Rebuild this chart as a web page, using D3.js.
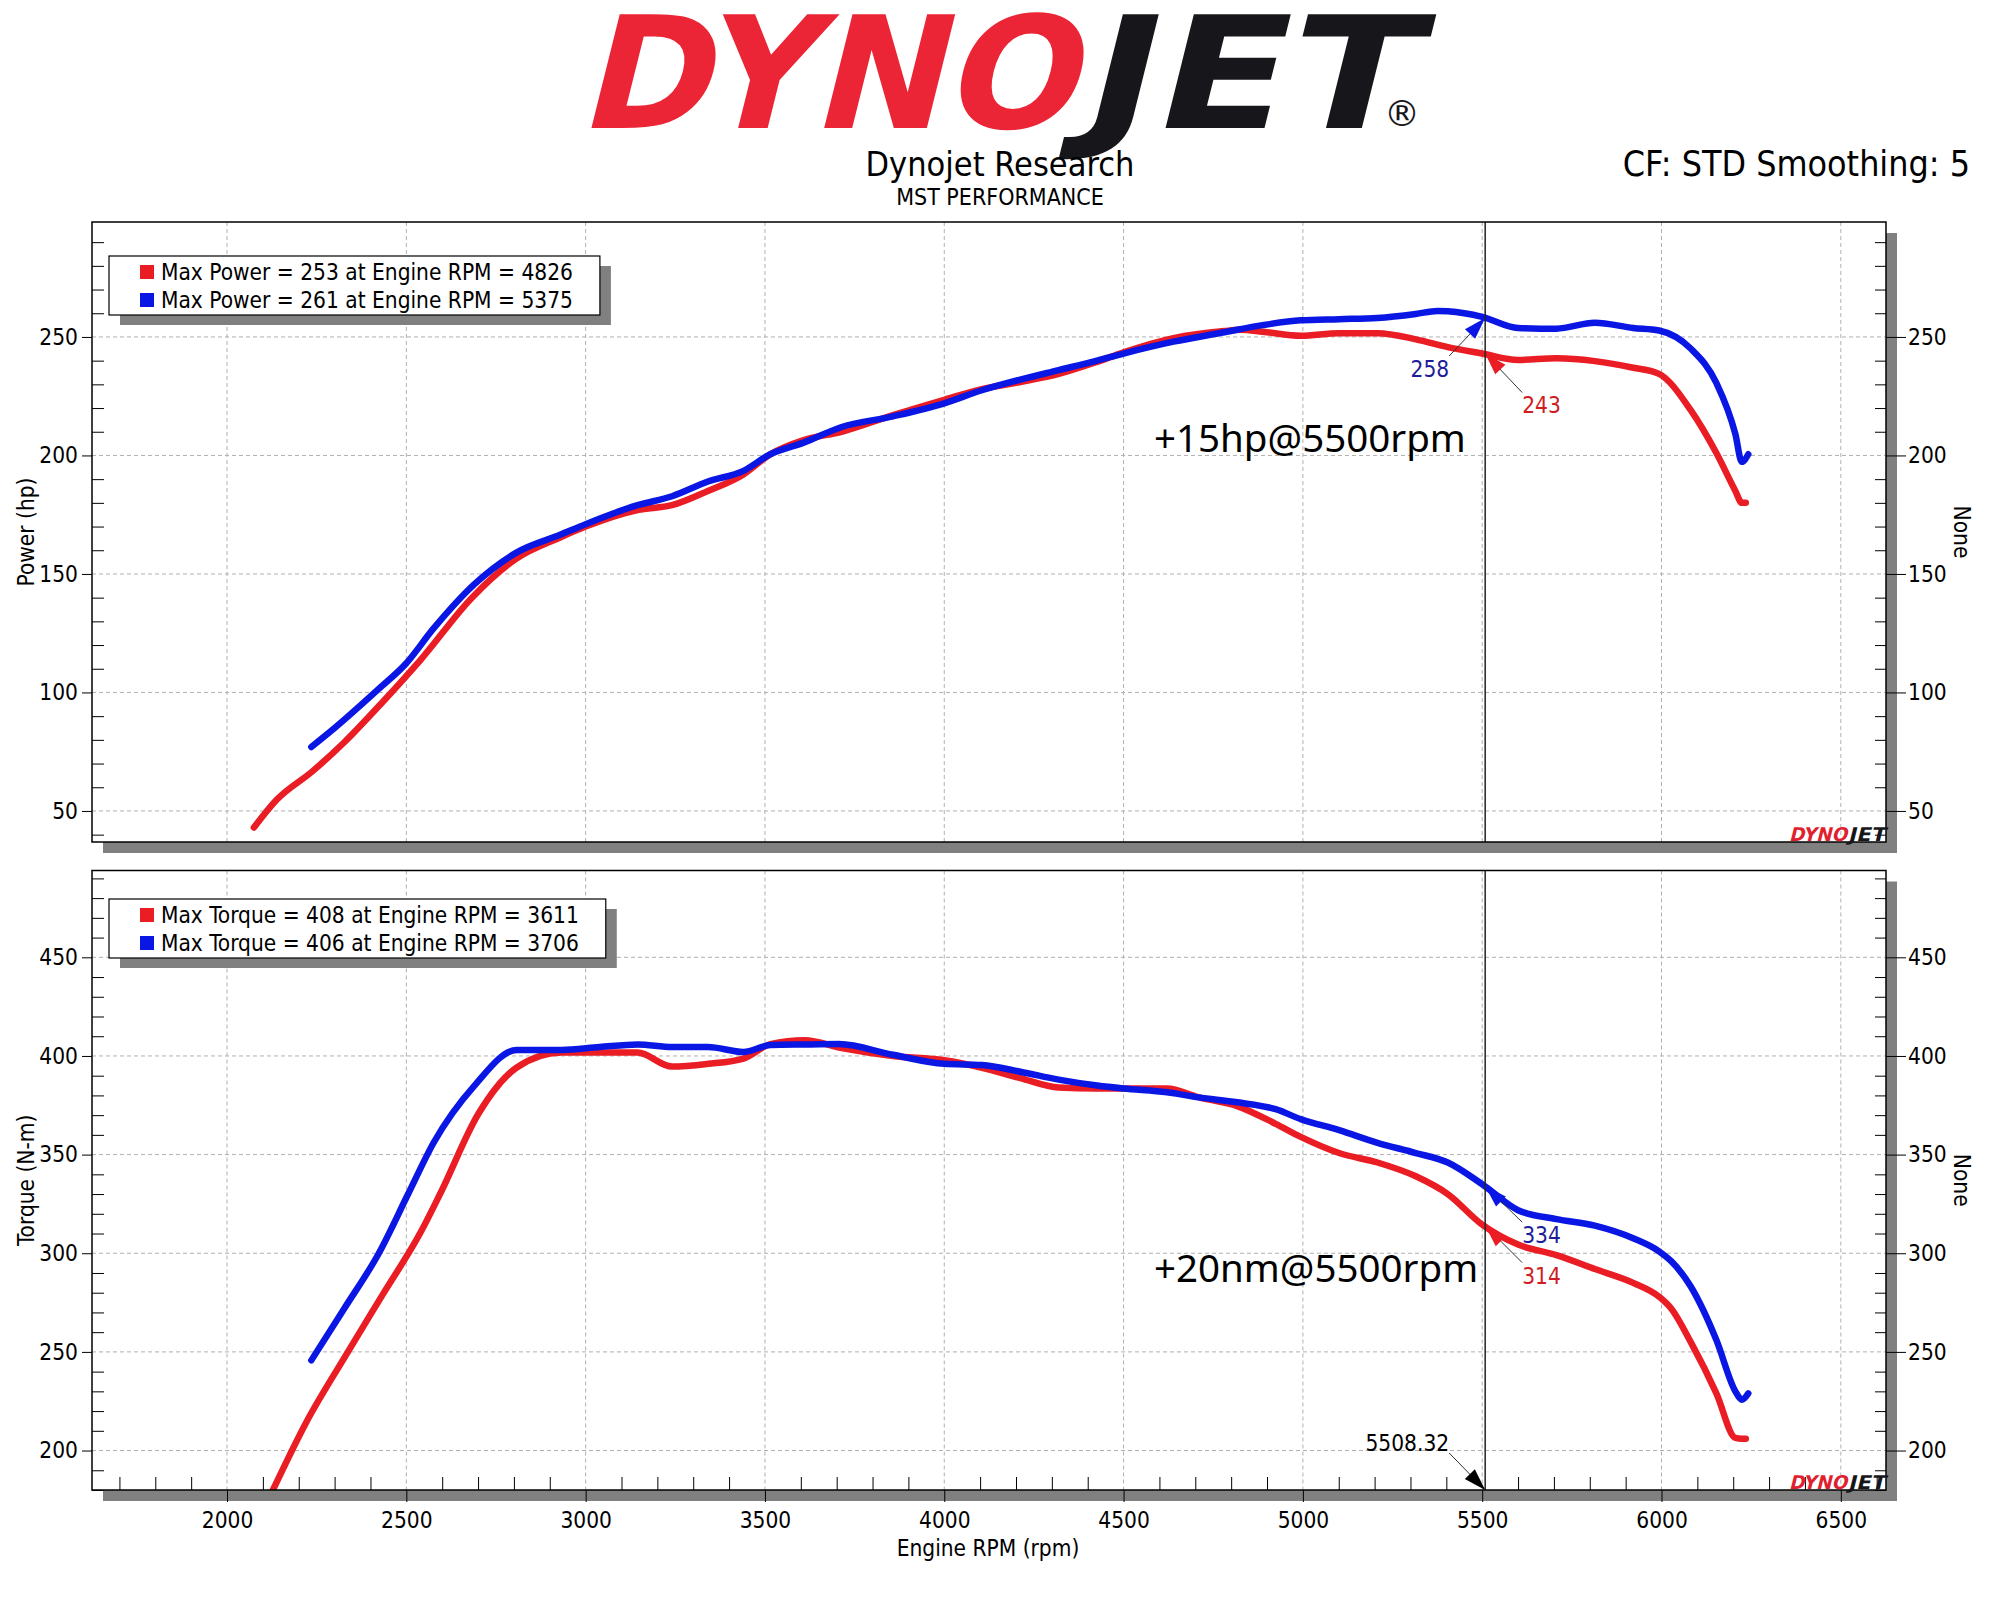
<!DOCTYPE html>
<html>
<head>
<meta charset="utf-8">
<script src="https://cdn.jsdelivr.net/npm/d3@7"></script>
<style>
body{margin:0;background:#fff;}
svg text{font-family:"DejaVu Sans Condensed","DejaVu Sans",sans-serif;}
</style>
</head>
<body>
<div id="main"></div>
<script>
// ---- data ----
const redPowerRpm = [2075,2139,2238,2327,2434,2541,2683,2807,2932,3000,3145,3241,3341,3440,3515,3608,3714,3857,4000,4105,4212,4319,4426,4500,4639,4781,4826,4888,4994,5101,5208,5315,5404,5500,5600,5707,5814,5921,5993,6082,6153,6206,6224,6235];
const redPower    = [43,54.8,66.7,79,96,114,140,156.5,165.6,170,177,179,185,192,200.5,206.5,210,217,223.5,228,231,234.4,239.5,243.5,249.5,252.5,253,252.2,250.5,251.6,251.6,249,245.7,243,240.3,241,239.8,237,234.4,219,201,185,180,180];

const bluePowerRpm = [2235,2300,2423,2498,2576,2690,2807,2932,3000,3145,3241,3341,3440,3515,3608,3714,3857,4000,4105,4212,4319,4426,4500,4639,4781,4888,4994,5101,5208,5315,5375,5404,5500,5600,5707,5814,5921,5993,6082,6153,6206,6224,6242];
const bluePower    = [77,85,101.5,112,127,145.7,159,166.7,171,179,182.8,189,193.5,200.5,205.4,212,216.5,222,227.5,232,236,240,243,248,252,255,257,257.5,258,259.7,261,260.8,258.5,253.8,253.5,256,253.8,252.7,245,230.6,209,197.3,200.5];

const redTorqueRpm = [2128,2220,2327,2434,2541,2594,2701,2807,2932,3039,3145,3241,3341,3440,3515,3611,3714,3857,4000,4105,4212,4319,4426,4500,4621,4710,4817,4924,4994,5101,5208,5315,5404,5500,5600,5707,5814,5921,5993,6027,6082,6153,6206,6224,6235];
const redTorque    = [180,214,247,279,311,330,370.7,394,401.7,401.7,401.7,394.6,396,398.7,406,408,404,400,397.8,394,388.8,384,383.5,383.5,383.5,379,374.6,365.6,359,350.8,346,339,330,314.5,304.4,299,292,285,278,272,254.8,229,206.4,206,206];

const blueTorqueRpm = [2235,2327,2423,2505,2576,2690,2807,2932,3039,3145,3241,3341,3440,3515,3608,3706,3857,4000,4105,4212,4319,4426,4500,4621,4710,4817,4924,4994,5101,5208,5315,5404,5500,5600,5707,5814,5921,5993,6027,6082,6153,6206,6224,6242];
const blueTorque    = [245.7,272,299.9,330,356,385,403,403,404.5,405.8,404.5,404.5,402,405.5,405.8,406,400.6,396,395.4,392,388,385,383.5,381.6,379,376.5,373,368,362.4,356,350.8,346,335,321.8,317.3,314,307.6,301,296,283,256,230,225.8,229];

const rpmTicks    = [2000,2500,3000,3500,4000,4500,5000,5500,6000,6500];
const powerTicks  = [50,100,150,200,250];
const torqueTicks = [200,250,300,350,400,450];

const powerLegend  = ["Max Power = 253 at Engine RPM = 4826","Max Power = 261 at Engine RPM = 5375"];
const torqueLegend = ["Max Torque = 408 at Engine RPM = 3611","Max Torque = 406 at Engine RPM = 3706"];

const cursorRpm = 5508.32;
const cursorPower  = [243,258];   // red, blue
const cursorTorque = [314,334];

const RED = "#ea1c24", BLUE = "#0a16e4";

const w = 2000, h = 1600;
const left = 92, right = 1886;
const fs = 22.5;

const svg = d3.select("#main").append("svg").attr("width",w).attr("height",h);

const xScale = d3.scaleLinear().domain([1623.5,6626]).range([left,right]);

// ---- header ----
const logo = svg.append("g").attr("transform","translate(0,128) skewX(-14)");
logo.append("text").attr("x",577).attr("y",0)
    .attr("font-size",156).attr("font-weight","bold").attr("fill","#ec2536")
    .attr("textLength",498).attr("lengthAdjust","spacingAndGlyphs")
    .style("font-family","DejaVu Sans").text("DYNO");
logo.append("text").attr("x",1077).attr("y",0)
    .attr("font-size",156).attr("font-weight","bold").attr("fill","#16161b")
    .attr("textLength",332).attr("lengthAdjust","spacingAndGlyphs")
    .style("font-family","DejaVu Sans").text("JET");
svg.append("text").attr("x",1402).attr("y",126).attr("text-anchor","middle")
    .attr("font-size",36).attr("fill","#16161b").style("font-family","DejaVu Sans").text("®");

svg.append("text").attr("x",1000).attr("y",176).attr("text-anchor","middle")
    .attr("font-size",34).text("Dynojet Research");
svg.append("text").attr("x",1000).attr("y",205).attr("text-anchor","middle")
    .attr("font-size",23).text("MST PERFORMANCE");
svg.append("text").attr("x",1970).attr("y",176).attr("text-anchor","end")
    .attr("font-size",35.5).text("CF: STD Smoothing: 5");

// ---- panels ----
const panels = [
    {top:222, bottom:842, domain:[36.9,298.5], ticks:powerTicks, label:"Power (hp)",
     legend:powerLegend, legendTop:256,
     red:[redPowerRpm,redPower], blue:[bluePowerRpm,bluePower], cursor:cursorPower,
     note:"+15hp@5500rpm", noteY:452, xAxis:false,
     offs:[[37,39],[-36,38]]},
    {top:870.5, bottom:1490, domain:[180,494], ticks:torqueTicks, label:"Torque (N-m)",
     legend:torqueLegend, legendTop:899,
     red:[redTorqueRpm,redTorque], blue:[blueTorqueRpm,blueTorque], cursor:cursorTorque,
     note:"+20nm@5500rpm", noteY:1282, xAxis:true,
     offs:[[37,37],[37,36]]}
];

function arrow(g, x1, y1, x2, y2, color){
    g.append("line").attr("x1",x1).attr("y1",y1).attr("x2",x2).attr("y2",y2)
        .attr("stroke","#333").attr("stroke-width",1);
    const len = Math.hypot(x2-x1,y2-y1), ux=(x2-x1)/len, uy=(y2-y1)/len;
    const L=22, hw=7;
    const bx=x2-ux*L, by=y2-uy*L;
    g.append("path")
        .attr("d","M"+x2+","+y2+"L"+(bx-uy*hw)+","+(by+ux*hw)+"L"+(bx+uy*hw)+","+(by-ux*hw)+"Z")
        .attr("fill",color);
}

panels.forEach(function(p,i){
    const yScale = d3.scaleLinear().domain(p.domain).range([p.bottom,p.top]);
    const ph = p.bottom-p.top;
    const g = svg.append("g");

    // shadow + plot area
    g.append("rect").attr("x",left+11).attr("y",p.top+11).attr("width",right-left).attr("height",ph).attr("fill","#808080");
    g.append("rect").attr("x",left).attr("y",p.top).attr("width",right-left).attr("height",ph).attr("fill","#fff");

    // grid
    g.selectAll(".vg").data(rpmTicks).enter().append("line")
        .attr("x1",d=>xScale(d)).attr("x2",d=>xScale(d)).attr("y1",p.top).attr("y2",p.bottom)
        .attr("stroke","#b0b0b0").attr("stroke-dasharray","4,3");
    g.selectAll(".hg").data(p.ticks).enter().append("line")
        .attr("x1",left).attr("x2",right).attr("y1",d=>yScale(d)).attr("y2",d=>yScale(d))
        .attr("stroke","#b0b0b0").attr("stroke-dasharray","4,3");

    // y axes
    const minor = d3.range(Math.ceil(p.domain[0]/10)*10, p.domain[1], 10).filter(d=>d%50!==0);
    g.append("g").attr("transform","translate("+left+",0)")
        .call(d3.axisLeft(yScale).tickValues(p.ticks).tickSize(10).tickPadding(4));
    g.append("g").attr("transform","translate("+left+",0)")
        .call(d3.axisRight(yScale).tickValues(minor).tickSize(12).tickFormat(""));
    g.append("g").attr("transform","translate("+right+",0)")
        .call(d3.axisRight(yScale).tickValues(p.ticks).tickSize(20).tickPadding(2));
    g.append("g").attr("transform","translate("+right+",0)")
        .call(d3.axisLeft(yScale).tickValues(minor).tickSize(11).tickFormat(""));

    // x axis (bottom panel only)
    if(p.xAxis){
        const xminor = d3.range(1700,6700,100).filter(d=>d%500!==0);
        g.append("g").attr("transform","translate(0,"+p.bottom+")")
            .call(d3.axisBottom(xScale).tickValues(rpmTicks).tickSize(12).tickPadding(10).tickFormat(d3.format("d")));
        g.append("g").attr("transform","translate(0,"+p.bottom+")")
            .call(d3.axisTop(xScale).tickValues(xminor).tickSize(13).tickFormat(""));
        svg.append("text").attr("x",988).attr("y",1556).attr("text-anchor","middle")
            .attr("font-size",fs).text("Engine RPM (rpm)");
    }
    g.selectAll(".domain").remove();
    g.selectAll(".tick line").attr("stroke","#000");
    g.selectAll(".tick text").attr("font-size",fs).attr("fill","#000")
        .style("font-family",'"DejaVu Sans Condensed","DejaVu Sans",sans-serif');

    // axis titles
    svg.append("text").attr("transform","translate(34,"+(p.top+ph/2)+") rotate(-90)")
        .attr("text-anchor","middle").attr("font-size",fs).text(p.label);
    svg.append("text").attr("transform","translate(1954,"+(p.top+ph/2)+") rotate(90)")
        .attr("text-anchor","middle").attr("font-size",fs).text("None");

    // curves
    const clipId = "clip"+i;
    svg.append("clipPath").attr("id",clipId).append("rect")
        .attr("x",left).attr("y",p.top).attr("width",right-left).attr("height",ph);
    const line = d3.line().x(d=>xScale(d[0])).y(d=>yScale(d[1])).curve(d3.curveMonotoneX);
    const lg = g.append("g").attr("clip-path","url(#"+clipId+")");
    [[p.red,RED],[p.blue,BLUE]].forEach(function(s){
        const pts = s[0][0].map((r,k)=>[r,s[0][1][k]]);
        lg.append("path").datum(pts).attr("d",line)
            .attr("fill","none").attr("stroke",s[1]).attr("stroke-width",6.5)
            .attr("stroke-linejoin","round").attr("stroke-linecap","round");
    });

    // cursor
    const cx = xScale(cursorRpm);
    g.append("line").attr("x1",cx).attr("x2",cx).attr("y1",p.top).attr("y2",p.bottom)
        .attr("stroke","#222").attr("stroke-width",1.5);

    // frame
    g.append("rect").attr("x",left).attr("y",p.top).attr("width",right-left).attr("height",ph)
        .attr("fill","none").attr("stroke","#000").attr("stroke-width",1.5);

    // cursor value labels
    const labCol = ["#cf1d23","#1d1d9a"], arrCol = [RED,BLUE];
    p.cursor.forEach(function(v,k){
        const ax = cx, ay = yScale(v);
        const o = p.offs[k];
        arrow(g, ax+o[0], ay+o[1], ax, ay, arrCol[k]);
        g.append("text").attr("x",ax+o[0]).attr("y",ay+o[1]+13)
            .attr("dy","0.35em").attr("text-anchor",o[0]<0?"end":"start")
            .attr("font-size",fs).attr("fill",labCol[k]).text(v);
    });

    // big note
    g.append("text").attr("x",1154).attr("y",p.noteY).attr("font-size",38.5)
        .style("font-family","'Noto Sans',sans-serif").attr("fill","#000").text(p.note);

    // mini logo
    const ml = g.append("g").attr("transform","translate(0,"+(p.bottom-1)+") skewX(-14)");
    ml.append("text").attr("x",1789).attr("font-size",19).attr("font-weight","bold").attr("fill","#e0202e")
        .attr("textLength",58).attr("lengthAdjust","spacingAndGlyphs").style("font-family","DejaVu Sans").text("DYNO");
    ml.append("text").attr("x",1848).attr("font-size",19).attr("font-weight","bold").attr("fill","#16161b")
        .attr("textLength",37).attr("lengthAdjust","spacingAndGlyphs").style("font-family","DejaVu Sans").text("JET");

    // legend
    const lgd = g.append("g");
    const texts = lgd.selectAll(".lt").data(p.legend).enter().append("text")
        .attr("x",161).attr("y",(d,k)=>p.legendTop+16+k*28).attr("dy","0.35em")
        .attr("font-size",fs).text(d=>d);
    let tw = 0;
    texts.each(function(){ tw = Math.max(tw,this.getComputedTextLength()); });
    const bx = 109, bw = 161+tw+27-bx, bh = 59;
    lgd.insert("rect",":first-child").attr("x",bx).attr("y",p.legendTop).attr("width",bw).attr("height",bh)
        .attr("fill","#fff").attr("stroke","#000").attr("stroke-width",1.2);
    lgd.insert("rect",":first-child").attr("x",bx+11).attr("y",p.legendTop+10).attr("width",bw).attr("height",bh)
        .attr("fill","#808080");
    lgd.selectAll(".sq").data([RED,BLUE]).enter().append("rect")
        .attr("x",140).attr("y",(d,k)=>p.legendTop+9+k*28).attr("width",14).attr("height",14).attr("fill",d=>d);
});

// cursor rpm label
const cx = xScale(cursorRpm);
arrow(svg, cx-36, 1490-37, cx, 1490, "#000");
svg.append("text").attr("x",cx-36).attr("y",1490-47).attr("dy","0.35em").attr("text-anchor","end")
    .attr("font-size",fs).text(cursorRpm.toFixed(2));
</script>
</body>
</html>
